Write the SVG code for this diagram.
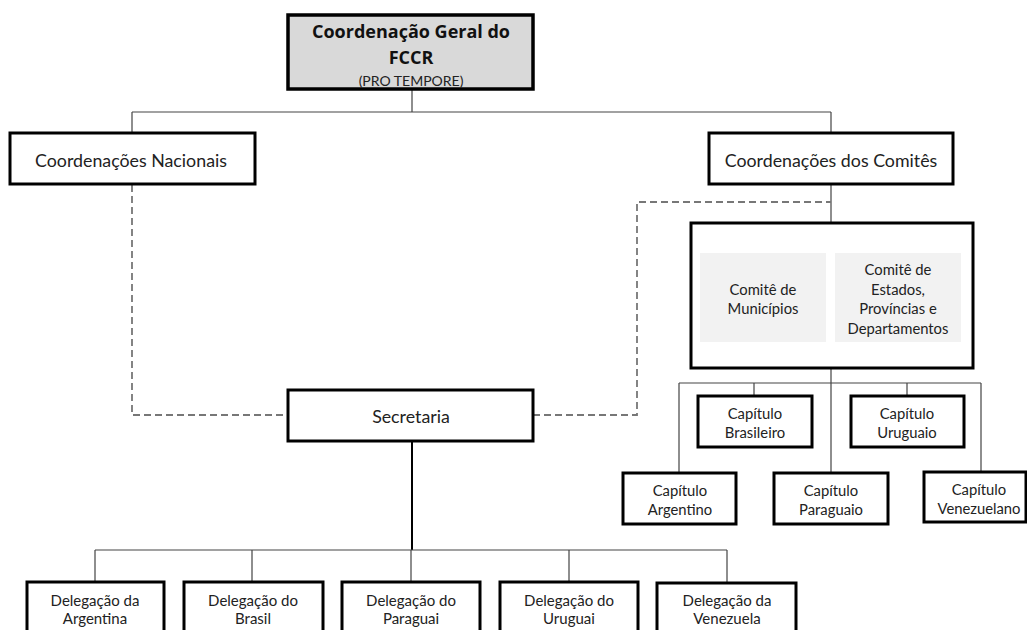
<svg xmlns="http://www.w3.org/2000/svg" width="1027" height="630" viewBox="0 0 1027 630">
<style>
.box{fill:#fff;stroke:#000;stroke-width:3}
.top{fill:#d9d9d9;stroke:#000;stroke-width:3.5}
.sub{fill:#f2f2f2;stroke:none}
.t{font-family:Lato,"Open Sans","Liberation Sans",sans-serif;fill:#222;text-anchor:middle;dominant-baseline:central}
.tb{font-family:"Open Sans",Lato,"Liberation Sans",sans-serif;font-weight:bold;fill:#111;text-anchor:middle;dominant-baseline:central}
.c{fill:none;stroke:#444;stroke-width:1.2}
.d{fill:none;stroke:#777;stroke-width:1.8;stroke-dasharray:7 4}
.k{fill:none;stroke:#000;stroke-width:2}
.m{font-size:17.8px}
.s{font-size:14.8px}
</style>
<rect width="1027" height="630" fill="#fff"/>
<g id="connectors">
<path class="c" d="M412 89V112M132 112H831M132 112V133M831 112V133M831 184V223"/>
<path class="c" d="M831 368V473M679 383H981M679 383V473M754 383V396M907 383V396M981 383V472"/>
<path class="d" d="M132 185V415H288"/>
<path class="d" d="M533 415H637V202H831"/>
<path class="k" d="M412 441V550"/>
<path class="c" d="M95 550H727M95 550V582M252 550V582M411 550V582M569 550V582M727 550V582"/>
</g>
<g id="coord-geral">
<rect class="top" x="288" y="15" width="245" height="74"/>
<text class="tb" x="411" y="31" font-size="18">Coordenação Geral do</text>
<text class="tb" x="411" y="57" font-size="18">FCCR</text>
<text class="t" x="411" y="80" font-size="14">(PRO TEMPORE)</text>
</g>
<g id="coord-nacionais">
<rect class="box" x="10" y="133" width="245" height="51"/>
<text class="t m" x="131" y="160">Coordenações Nacionais</text>
</g>
<g id="coord-comites">
<rect class="box" x="709" y="133" width="244" height="51"/>
<text class="t m" x="831" y="160">Coordenações dos Comitês</text>
</g>
<g id="comites">
<rect class="box" x="691" y="223" width="282" height="145"/>
<rect class="sub" x="700" y="253" width="126" height="89"/>
<rect class="sub" x="835" y="253" width="126" height="89"/>
<text class="t s" x="763" y="289">Comitê de</text>
<text class="t s" x="763" y="308">Municípios</text>
<text class="t s" x="898" y="269">Comitê de</text>
<text class="t s" x="898" y="289">Estados,</text>
<text class="t s" x="898" y="308">Províncias e</text>
<text class="t s" x="898" y="328">Departamentos</text>
</g>
<g id="cap-brasileiro">
<rect class="box" x="698" y="396" width="114" height="51"/>
<text class="t s" x="755" y="413">Capítulo</text>
<text class="t s" x="755" y="432">Brasileiro</text>
</g>
<g id="cap-uruguaio">
<rect class="box" x="851" y="396" width="113" height="51"/>
<text class="t s" x="907" y="413">Capítulo</text>
<text class="t s" x="907" y="432">Uruguaio</text>
</g>
<g id="cap-argentino">
<rect class="box" x="623" y="473" width="113" height="51"/>
<text class="t s" x="680" y="490">Capítulo</text>
<text class="t s" x="680" y="509">Argentino</text>
</g>
<g id="cap-paraguaio">
<rect class="box" x="774" y="473" width="114" height="51"/>
<text class="t s" x="831" y="490">Capítulo</text>
<text class="t s" x="831" y="509">Paraguaio</text>
</g>
<g id="cap-venezuelano">
<rect class="box" x="924" y="472" width="102" height="50"/>
<text class="t s" x="979" y="489">Capítulo</text>
<text class="t s" x="979" y="508">Venezuelano</text>
</g>
<g id="secretaria">
<rect class="box" x="288" y="390" width="245" height="51"/>
<text class="t m" x="411" y="416">Secretaria</text>
</g>
<g id="del-argentina">
<rect class="box" x="27" y="582" width="137" height="60"/>
<text class="t" x="95" y="600" font-size="15">Delegação da</text>
<text class="t" x="95" y="618" font-size="15">Argentina</text>
</g>
<g id="del-brasil">
<rect class="box" x="184" y="582" width="139" height="60"/>
<text class="t" x="253" y="600" font-size="15">Delegação do</text>
<text class="t" x="253" y="618" font-size="15">Brasil</text>
</g>
<g id="del-paraguai">
<rect class="box" x="342" y="582" width="138" height="60"/>
<text class="t" x="411" y="600" font-size="15">Delegação do</text>
<text class="t" x="411" y="618" font-size="15">Paraguai</text>
</g>
<g id="del-uruguai">
<rect class="box" x="500" y="582" width="138" height="60"/>
<text class="t" x="569" y="600" font-size="15">Delegação do</text>
<text class="t" x="569" y="618" font-size="15">Uruguai</text>
</g>
<g id="del-venezuela">
<rect class="box" x="657" y="583" width="139" height="60"/>
<text class="t" x="727" y="600" font-size="15">Delegação da</text>
<text class="t" x="727" y="618" font-size="15">Venezuela</text>
</g>
</svg>
